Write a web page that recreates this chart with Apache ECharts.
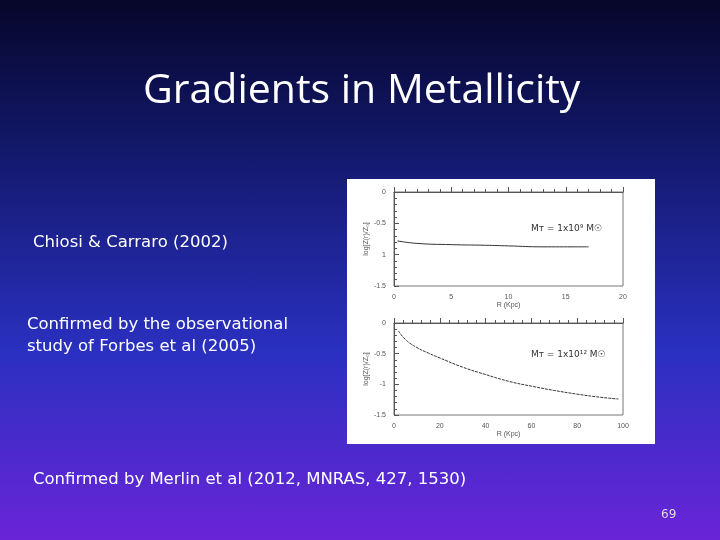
<!DOCTYPE html><html><head><meta charset="utf-8">
<script src="https://cdn.jsdelivr.net/npm/echarts@6/dist/echarts.min.js"></script>
<style>html,body{margin:0;padding:0;}body{width:720px;height:540px;background:linear-gradient(#06062a 0%,#141a70 30%,#2a30c0 65%,#6a24d8 100%);}#c{width:720px;height:540px;}</style>
</head><body><div id="c"></div><script>
const topR=[0.3,2,5,8,10,13,17];
const topZ=[-0.78,-0.82,-0.84,-0.85,-0.86,-0.875,-0.875];
const botR=[2,5,10,15,20,30,40,50,60,70,80,90,98];
const botZ=[-0.13,-0.27,-0.4,-0.49,-0.57,-0.72,-0.84,-0.95,-1.03,-1.1,-1.16,-1.21,-1.24];
const topXTicks=[0,5,10,15,20];
const botXTicks=[0,20,40,60,80,100];
const ch=echarts.init(document.getElementById('c'));
const ax={axisLine:{lineStyle:{color:'#555'}},axisTick:{inside:true,lineStyle:{color:'#555'}},minorTick:{show:true,splitNumber:5},axisLabel:{color:'#555',fontSize:7},splitLine:{show:false}};
const F='16.5px "DejaVu Sans"';
ch.setOption({
grid:[{left:394,top:192,width:229,height:94,show:true,borderColor:'#777',borderWidth:1},{left:394,top:323,width:229,height:92,show:true,borderColor:'#777',borderWidth:1}],
xAxis:[Object.assign({type:'value',gridIndex:0,min:0,max:20,interval:5,name:'R (Kpc)',nameLocation:'middle',nameGap:11,nameTextStyle:{fontSize:7,color:'#555'}},ax),
Object.assign({type:'value',gridIndex:1,min:0,max:100,interval:20,name:'R (Kpc)',nameLocation:'middle',nameGap:11,nameTextStyle:{fontSize:7,color:'#555'}},ax)],
yAxis:[Object.assign({},ax,{type:'value',gridIndex:0,min:-1.5,max:0,interval:0.5,name:'log[Z(r)/Z₀]',nameLocation:'middle',nameGap:22,nameTextStyle:{fontSize:7,color:'#555'},axisLabel:{color:'#555',fontSize:7,formatter:v=>v===-1?'1':v===0?'0':String(v)}}),
Object.assign({},ax,{type:'value',gridIndex:1,min:-1.5,max:0,interval:0.5,name:'log[Z(r)/Z₀]',nameLocation:'middle',nameGap:22,nameTextStyle:{fontSize:7,color:'#555'}})],
series:[{type:'line',xAxisIndex:0,yAxisIndex:0,data:topR.map((r,i)=>[r,topZ[i]]),showSymbol:false,smooth:true,lineStyle:{color:'#333',width:1}},
{type:'line',xAxisIndex:1,yAxisIndex:1,data:botR.map((r,i)=>[r,botZ[i]]),showSymbol:false,smooth:true,lineStyle:{color:'#333',width:1,type:[3,1]}}],
graphic:[
{type:'rect',z:-10,shape:{x:347,y:179,width:308,height:265},style:{fill:'#fff'}},
{type:'text',left:143,top:71,style:{text:'Gradients in Metallicity',fill:'#fff',font:'41px "Open Sans"'}},
{type:'text',left:33,top:234,style:{text:'Chiosi & Carraro (2002)',fill:'#fff',font:F}},
{type:'text',left:27,top:314,style:{text:'Confirmed by the observational\nstudy of Forbes et al (2005)',fill:'#fff',font:F,lineHeight:22}},
{type:'text',left:33,top:471,style:{text:'Confirmed by Merlin et al (2012, MNRAS, 427, 1530)',fill:'#fff',font:F}},
{type:'text',left:661,top:509,style:{text:'69',fill:'#ddd',font:'12px "DejaVu Sans"'}},
{type:'text',left:531,top:224,style:{text:'Mᴛ = 1x10⁹ M☉',fill:'#333',font:'9px "DejaVu Sans"'}},
{type:'text',left:531,top:350,style:{text:'Mᴛ = 1x10¹² M☉',fill:'#333',font:'9px "DejaVu Sans"'}}
]});
</script></body></html>
